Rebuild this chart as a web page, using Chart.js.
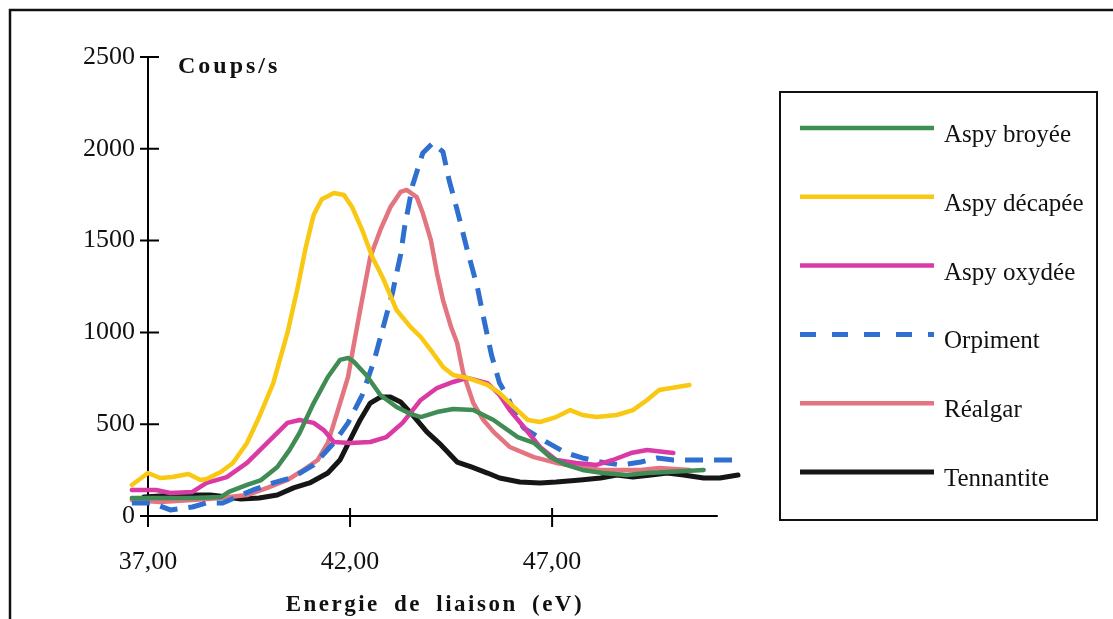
<!DOCTYPE html>
<html>
<head>
<meta charset="utf-8">
<script src="https://cdn.jsdelivr.net/npm/chart.js@4.4.1/dist/chart.umd.min.js"></script>
<style>
html,body{margin:0;padding:0;background:#fff;}
canvas{display:block;}
</style>
</head>
<body>
<canvas id="c" width="1113" height="619"></canvas>
<script>
// ---- Data ----
const seriesNames = ['Aspy broyée', 'Aspy décapée', 'Aspy oxydée', 'Orpiment', 'Réalgar', 'Tennantite'];

const broyeeE = [36.6,37.3,38.1,38.8,39.0,39.45,39.8,40.2,40.5,40.75,41.1,41.45,41.75,41.95,42.1,42.4,42.75,43.15,43.5,43.75,44.15,44.55,45.05,45.55,46.15,46.55,46.95,47.35,47.75,48.25,48.85,49.35,49.85,50.75];
const broyeeV = [98,98,98,103,131,169,196,267,359,452,615,757,850,861,839,768,659,594,556,539,566,583,577,523,430,398,321,278,251,234,223,234,240,251];

const decapeeE = [36.6,37.0,37.3,37.6,38.0,38.3,38.45,38.8,39.1,39.45,39.75,40.1,40.45,40.7,40.9,41.1,41.3,41.6,41.85,42.05,42.3,42.55,42.8,43.15,43.5,43.75,44.05,44.3,44.55,44.9,45.4,45.7,46.05,46.4,46.7,47.1,47.45,47.75,48.1,48.6,49.0,49.35,49.65,50.1,50.4];
const decapeeV = [169,234,207,212,229,196,202,240,289,398,539,724,997,1240,1460,1640,1725,1759,1748,1683,1558,1411,1302,1122,1029,975,888,812,768,752,714,670,594,523,512,539,577,550,539,550,577,632,686,703,714];

const oxydeeE = [36.6,37.2,37.55,38.1,38.45,38.95,39.45,39.95,40.45,40.75,41.1,41.35,41.6,42.0,42.5,42.9,43.3,43.75,44.15,44.55,44.9,45.4,45.7,45.95,46.3,46.7,47.1,47.6,48.1,48.5,48.95,49.35,50.0];
const oxydeeV = [142,142,125,131,180,212,289,398,507,523,507,468,403,398,403,430,507,632,697,730,752,724,659,577,485,376,305,289,278,305,343,359,343];

const orpimentE = [36.6,37.1,37.55,38.1,38.45,38.85,39.6,40.1,40.6,41.1,41.6,41.95,42.3,42.6,42.8,43.05,43.25,43.35,43.55,43.8,44.05,44.3,44.45,44.65,44.9,45.15,45.3,45.5,45.7,45.9,46.15,46.3,46.9,47.35,47.75,48.2,48.7,49.2,49.6,50.0,50.6,51.15,51.6];
const orpimentV = [71,71,33,49,71,71,142,180,212,278,398,507,659,850,1013,1215,1422,1574,1803,1977,2032,1983,1830,1667,1449,1247,1084,877,724,648,523,479,398,343,316,294,278,294,316,305,305,305,305];

const realgarE = [36.6,37.3,38.1,38.8,39.45,39.95,40.45,40.85,41.2,41.45,41.7,41.95,42.1,42.25,42.5,42.75,43.0,43.25,43.4,43.65,43.8,44.0,44.15,44.3,44.5,44.65,44.8,45.05,45.3,45.55,45.95,46.55,47.1,47.7,48.2,48.7,49.2,49.65,50.4];
const realgarV = [87,76,87,98,114,153,196,251,305,398,577,757,942,1122,1411,1558,1683,1765,1776,1737,1650,1503,1324,1176,1029,942,779,615,523,458,376,321,289,267,251,251,251,261,251];

const tennantiteE = [36.9,37.7,38.55,38.95,39.3,39.75,40.2,40.6,41.0,41.45,41.75,42.0,42.25,42.5,42.75,43.0,43.25,43.55,43.9,44.25,44.65,45.0,45.4,45.7,46.2,46.7,47.1,47.7,48.2,48.6,49.0,49.45,49.85,50.25,50.75,51.15,51.6];
const tennantiteV = [103,114,114,103,93,98,114,153,180,234,305,414,523,615,648,648,621,550,458,387,294,267,234,207,185,180,185,196,207,223,212,223,234,223,207,207,223];

const xTicks = [37, 42, 47];
const yTicks = [0, 500, 1000, 1500, 2000, 2500];
const xMin = 37, xMax = 51.6, xAxisEnd = 51.1;
const yMin = 0, yMax = 2500;
const yTitle = 'Coups/s';
const xTitle = 'Energie de liaison (eV)';

// ---- Build datasets ----
const zip = (E, V) => E.map((e, i) => ({x: e, y: V[i]}));
const seriesData = [zip(broyeeE, broyeeV), zip(decapeeE, decapeeV), zip(oxydeeE, oxydeeV),
                    zip(orpimentE, orpimentV), zip(realgarE, realgarV), zip(tennantiteE, tennantiteV)];
const seriesColors = ['#3f8d55', '#f9c813', '#da3aa4', '#2f6fd0', '#e27580', '#161616'];
const seriesDash = [[], [], [], [18, 11], [], []];
const seriesWidth = [4.5, 4.5, 4.5, 5, 4.5, 5];

const datasets = seriesNames.map((n, i) => ({
  label: n,
  data: seriesData[i],
  borderColor: seriesColors[i],
  backgroundColor: seriesColors[i],
  borderWidth: seriesWidth[i],
  borderDash: seriesDash[i],
  borderCapStyle: seriesDash[i].length ? 'butt' : 'round',
  borderJoinStyle: 'round',
  pointRadius: 0,
  tension: 0,
  fill: false,
  clip: false
}));

const SERIF = "'Liberation Serif', 'Times New Roman', serif";

const decorPlugin = {
  id: 'decor',
  beforeDraw(chart) {
    const ctx = chart.ctx;
    ctx.save();
    ctx.fillStyle = '#fff';
    ctx.fillRect(0, 0, chart.width, chart.height);
    // outer frame (extends beyond the canvas on right / bottom)
    ctx.strokeStyle = '#111';
    ctx.lineWidth = 2.5;
    ctx.beginPath();
    ctx.moveTo(10, chart.height + 5);
    ctx.lineTo(10, 10);
    ctx.lineTo(chart.width + 5, 10);
    ctx.stroke();
    ctx.restore();
  },
  afterDraw(chart) {
    const ctx = chart.ctx;
    const xs = chart.scales.x, ys = chart.scales.y;
    const left = xs.getPixelForValue(xMin);
    const bottom = ys.getPixelForValue(yMin);
    ctx.save();
    ctx.strokeStyle = '#000';
    ctx.lineWidth = 2;
    // x axis line
    ctx.beginPath();
    ctx.moveTo(left, bottom);
    ctx.lineTo(xs.getPixelForValue(xAxisEnd), bottom);
    ctx.stroke();
    // crossing tick marks
    ctx.beginPath();
    yTicks.forEach(v => {
      const py = ys.getPixelForValue(v);
      ctx.moveTo(left - 8, py);
      ctx.lineTo(left + 11, py);
    });
    xTicks.forEach(v => {
      const px = xs.getPixelForValue(v);
      ctx.moveTo(px, bottom - 8);
      ctx.lineTo(px, bottom + 11);
    });
    ctx.stroke();

    // y axis title (horizontal, beside top tick)
    ctx.fillStyle = '#111';
    ctx.font = 'bold 24px ' + SERIF;
    ctx.textAlign = 'left';
    ctx.textBaseline = 'alphabetic';
    if ('letterSpacing' in ctx) ctx.letterSpacing = '3px';
    ctx.fillText(yTitle, left + 30, ys.getPixelForValue(yMax) + 16);

    // x axis title
    ctx.font = 'bold 23px ' + SERIF;
    ctx.textAlign = 'center';
    if ('letterSpacing' in ctx) ctx.letterSpacing = '2.5px';
    if ('wordSpacing' in ctx) ctx.wordSpacing = '6px';
    ctx.fillText(xTitle, (left + xs.getPixelForValue(xAxisEnd)) / 2 + 2, 611);
    if ('letterSpacing' in ctx) ctx.letterSpacing = '0px';
    if ('wordSpacing' in ctx) ctx.wordSpacing = '0px';

    // legend box
    const bx = 780, by = 92, bw = 317, bh = 428;
    ctx.lineWidth = 2;
    ctx.strokeStyle = '#111';
    ctx.strokeRect(bx, by, bw, bh);
    const rowY0 = 128, rowStep = 68.8;
    ctx.font = '25px ' + SERIF;
    ctx.textAlign = 'left';
    chart.data.datasets.forEach((ds, i) => {
      const y = rowY0 + i * rowStep;
      ctx.save();
      ctx.strokeStyle = ds.borderColor;
      ctx.lineWidth = ds.borderWidth;
      ctx.setLineDash(ds.borderDash && ds.borderDash.length ? [16, 16] : []);
      ctx.lineCap = 'butt';
      ctx.beginPath();
      ctx.moveTo(800, y);
      ctx.lineTo(934, y);
      ctx.stroke();
      ctx.restore();
      ctx.fillStyle = '#111';
      ctx.fillText(ds.label, 944, y + 14);
    });
    ctx.restore();
  }
};

new Chart(document.getElementById('c'), {
  type: 'line',
  data: { datasets },
  options: {
    responsive: false,
    animation: false,
    events: [],
    layout: { padding: { left: 0, right: 375, top: 57, bottom: 0 } },
    plugins: { legend: { display: false }, title: { display: false }, tooltip: { enabled: false } },
    scales: {
      x: {
        type: 'linear',
        position: 'bottom',
        min: xMin, max: xMax,
        afterFit(scale) { scale.height = 103; },
        afterBuildTicks(scale) { scale.ticks = xTicks.map(v => ({ value: v })); },
        grid: { display: false, drawTicks: false },
        border: { display: false },
        ticks: {
          padding: 31,
          color: '#111',
          maxRotation: 0,
          autoSkip: false,
          font: { family: SERIF, size: 26 },
          callback: v => Number(v).toFixed(2).replace('.', ',')
        }
      },
      y: {
        type: 'linear',
        position: 'left',
        min: yMin, max: yMax,
        afterFit(scale) { scale.width = 148; },
        afterBuildTicks(scale) { scale.ticks = yTicks.map(v => ({ value: v })); },
        grid: { display: false, drawTicks: false },
        border: { display: true, color: '#000', width: 2 },
        ticks: {
          padding: 13,
          color: '#111',
          font: { family: SERIF, size: 26 },
          callback: v => String(v)
        }
      }
    }
  },
  plugins: [decorPlugin]
});
</script>
</body>
</html>
